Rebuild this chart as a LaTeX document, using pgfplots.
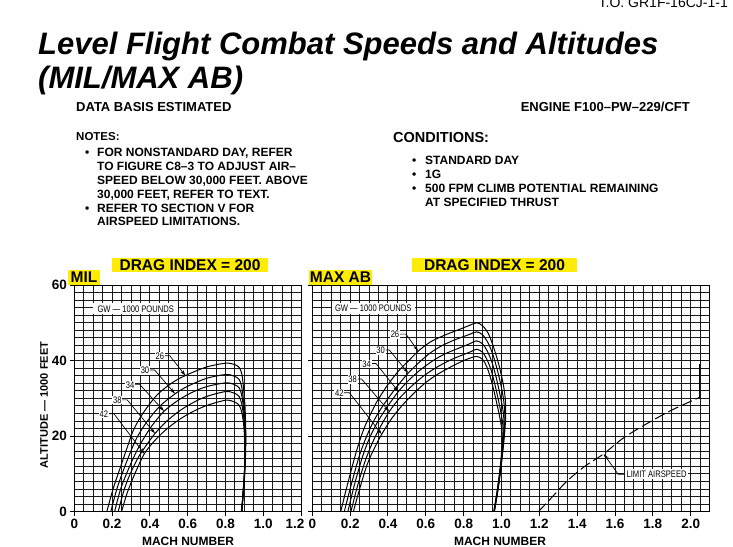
\documentclass[border=0pt]{standalone}
\usepackage{pgfplots}
\pgfplotsset{compat=1.18}
\usepackage{fontspec}
\setmainfont{Liberation Sans}
\newfontfamily\narrow[FakeStretch=0.8]{Liberation Sans}
\usetikzlibrary{arrows.meta}
\definecolor{hl}{RGB}{255,236,0}

\pgfplotsset{
  chart/.style={
    scale only axis, height=226.7pt,
    ymin=0, ymax=60, xmin=0,
    ytick={0,20,40,60},
    minor ytick={0,2,...,60},
    grid=both,
    major grid style={black!90, line width=1pt},
    minor grid style={black!90, line width=1pt},
    axis line style={black, line width=1pt},
    tick style={black, line width=1pt},
    major tick length=4pt, minor tick length=0pt,
    tick align=outside, tick pos=left,
    /pgf/number format/assume math mode=true,
    ticklabel style={font=\bfseries\fontsize{13.5}{14}\selectfont},
    cycle list={{black}},
    every axis plot post/.append style={black, line width=1pt, smooth, tension=0.5, mark=none},
  },
}
\tikzset{
  lbl/.style={fill=white, inner sep=0.8pt, font=\narrow\fontsize{9.5}{10}\selectfont},
  arr/.style={black, line width=0.7pt, -{Stealth[length=6pt,width=3.5pt]}},
}

\begin{document}
\begin{tikzpicture}[x=1pt,y=1pt]
\useasboundingbox (0pt,0pt) rectangle (733pt,546pt);

% header text
\node[anchor=base east, font=\fontsize{14}{14}\selectfont, inner sep=0] at (728pt,538pt) {T.O. GR1F-16CJ-1-1};
\node[anchor=base west, font=\bfseries\itshape\fontsize{31}{31}\selectfont, inner sep=0] at (38pt,491pt) {Level Flight Combat Speeds and Altitudes};
\node[anchor=base west, font=\bfseries\itshape\fontsize{31}{31}\selectfont, inner sep=0] at (38pt,457pt) {(MIL/MAX AB)};
\node[anchor=base west, font=\bfseries\fontsize{13}{13}\selectfont, inner sep=0] at (76pt,434pt) {DATA BASIS ESTIMATED};
\node[anchor=base east, font=\bfseries\fontsize{13}{13}\selectfont, inner sep=0] at (690pt,434pt) {ENGINE F100–PW–229/CFT};

\begin{scope}[every node/.style={anchor=base west, font=\bfseries\fontsize{12}{12}\selectfont, inner sep=0}]
\node[font=\bfseries\fontsize{11.5}{12}\selectfont] at (76pt,405pt) {NOTES:};
\node at (85pt,389.5pt) {\textbullet};
\node at (97pt,389.5pt) {FOR NONSTANDARD DAY, REFER};
\node at (97pt,375.5pt) {TO FIGURE C8–3 TO ADJUST AIR–};
\node at (97pt,361.5pt) {SPEED BELOW 30,000 FEET. ABOVE};
\node at (97pt,347.5pt) {30,000 FEET, REFER TO TEXT.};
\node at (85pt,333.5pt) {\textbullet};
\node at (97pt,333.5pt) {REFER TO SECTION V FOR};
\node at (97pt,320.5pt) {AIRSPEED LIMITATIONS.};
\node[font=\bfseries\fontsize{14.5}{15}\selectfont] at (393pt,403.5pt) {CONDITIONS:};
\node at (412pt,381.5pt) {\textbullet};
\node at (425pt,381.5pt) {STANDARD DAY};
\node at (412pt,367.5pt) {\textbullet};
\node at (425pt,367.5pt) {1G};
\node at (412pt,353.5pt) {\textbullet};
\node at (425pt,353.5pt) {500 FPM CLIMB POTENTIAL REMAINING};
\node at (425pt,339.5pt) {AT SPECIFIED THRUST};
\end{scope}

% highlighted panel titles
\fill[hl] (112pt,274pt) rectangle (268pt,288pt);
\fill[hl] (412pt,274pt) rectangle (577pt,288pt);
\fill[hl] (68pt,261pt) rectangle (100pt,276pt);
\fill[hl] (309pt,261pt) rectangle (372pt,276pt);
\node[font=\bfseries\fontsize{15.5}{16}\selectfont, inner sep=0] at (190pt,281pt) {DRAG INDEX = 200};
\node[font=\bfseries\fontsize{15.5}{16}\selectfont, inner sep=0] at (494.5pt,281pt) {DRAG INDEX = 200};
\node[font=\bfseries\fontsize{15.5}{16}\selectfont, inner sep=0] at (84pt,268.5pt) {MIL};
\node[font=\bfseries\fontsize{15.5}{16}\selectfont, inner sep=0] at (340.5pt,268.5pt) {MAX AB};

\node[rotate=90, font=\bfseries\fontsize{11}{11}\selectfont, inner sep=0] at (44pt,141pt) {ALTITUDE — 1000 FEET};
\node[font=\bfseries\fontsize{12}{12}\selectfont, inner sep=0] at (188pt,5pt) {MACH NUMBER};
\node[font=\bfseries\fontsize{12}{12}\selectfont, inner sep=0] at (500pt,5pt) {MACH NUMBER};

% ---------------- MIL ----------------
\begin{axis}[chart, at={(74.3pt,34.3pt)}, anchor=south west, width=226.8pt,
  xmax=1.2, xtick={0,0.2,0.4,0.6,0.8,1.0,1.2},
  xticklabels={0,0.2,0.4,0.6,0.8,1.0,{\hspace*{-12pt}1.2}},
  minor xtick={0,0.05,...,1.2}]
% GW 26
\addplot coordinates {(0.172,0)(0.205,6)(0.242,11.5)(0.28,17)(0.312,21.5)(0.36,25.8)(0.436,30.8)(0.52,34.2)(0.595,36.2)(0.70,38.3)(0.80,39.3)(0.845,39.0)(0.872,38.2)(0.886,36.5)(0.895,33)(0.903,28)(0.907,22)(0.907,17)(0.902,10)(0.893,4)(0.887,0)};
% GW 30
\addplot coordinates {(0.193,0)(0.225,6)(0.26,11)(0.295,15.5)(0.33,19.5)(0.38,23.5)(0.45,27.8)(0.533,31.2)(0.60,33.2)(0.70,35.3)(0.80,36.3)(0.845,35.9)(0.872,35.0)(0.885,33.2)(0.894,30)(0.902,25.5)(0.906,20.5)(0.905,15.5)(0.900,9.5)(0.892,4)(0.886,0)};
% GW 34
\addplot coordinates {(0.213,0)(0.245,6)(0.28,10.5)(0.32,15)(0.36,18.8)(0.41,22.7)(0.475,26.6)(0.55,29.5)(0.62,31.5)(0.70,33.1)(0.80,34.1)(0.845,33.7)(0.872,32.8)(0.885,31)(0.894,28)(0.901,24)(0.905,19.5)(0.904,14.5)(0.899,9)(0.891,3.5)(0.885,0)};
% GW 38
\addplot coordinates {(0.232,0)(0.265,6)(0.30,10.5)(0.34,14.5)(0.38,17.5)(0.427,20.7)(0.49,24)(0.56,26.8)(0.63,28.9)(0.70,30.5)(0.80,31.8)(0.845,31.4)(0.872,30.5)(0.885,28.7)(0.894,26)(0.900,22.5)(0.904,18.5)(0.903,13.5)(0.898,8.5)(0.890,3)(0.884,0)};
% GW 42
\addplot coordinates {(0.25,0)(0.28,5)(0.32,10)(0.369,15.2)(0.42,18.5)(0.48,21.5)(0.55,24.2)(0.62,26.3)(0.70,28.1)(0.80,29.5)(0.845,29.1)(0.872,28.2)(0.885,26.5)(0.894,24)(0.900,20.5)(0.903,17)(0.902,12.5)(0.897,8)(0.889,2.5)(0.883,0)};

\node[lbl, minimum width=85pt, minimum height=11pt] at (axis cs:0.325,53.65) {GW — 1000 POUNDS};
\draw[arr] (axis cs:0.478,41.3) -- (axis cs:0.505,41.3) -- (axis cs:0.588,36.0);
\draw[arr] (axis cs:0.399,37.5) -- (axis cs:0.425,37.5) -- (axis cs:0.533,31.2);
\draw[arr] (axis cs:0.320,33.7) -- (axis cs:0.346,33.7) -- (axis cs:0.475,26.6);
\draw[arr] (axis cs:0.253,29.6) -- (axis cs:0.280,29.6) -- (axis cs:0.427,20.7);
\draw[arr] (axis cs:0.182,25.9) -- (axis cs:0.210,25.9) -- (axis cs:0.371,15.3);
\node[lbl] at (axis cs:0.453,41.2) {26};
\node[lbl] at (axis cs:0.374,37.4) {30};
\node[lbl] at (axis cs:0.295,33.6) {34};
\node[lbl] at (axis cs:0.228,29.5) {38};
\node[lbl] at (axis cs:0.157,25.8) {42};
\end{axis}

% ---------------- MAX AB ----------------
\begin{axis}[chart, at={(312.3pt,34.3pt)}, anchor=south west, width=397.3pt,
  xmax=2.1, xtick={0,0.2,0.4,0.6,0.8,1.0,1.2,1.4,1.6,1.8,2.0},
  xticklabels={0,0.2,0.4,0.6,0.8,1.0,1.2,1.4,1.6,1.8,2.0},
  minor xtick={0,0.05,...,2.1}, yticklabels={}]
% GW 26
\addplot coordinates {(0.15,0)(0.19,8)(0.235,16.3)(0.27,21.6)(0.30,25)(0.34,29)(0.38,32.2)(0.411,34.4)(0.46,37.5)(0.51,40)(0.56,42.5)(0.62,44.8)(0.68,46.3)(0.728,47.3)(0.78,48.3)(0.83,49.3)(0.869,50)(0.9,49.2)(0.93,47.2)(0.955,44)(0.98,40)(1.0,36)(1.015,32)(1.022,28)(1.02,23)(1.005,15)(0.985,7)(0.962,0)};
% GW 30
\addplot coordinates {(0.169,0)(0.205,7)(0.25,15)(0.29,20.3)(0.33,24.5)(0.37,27.8)(0.42,31.3)(0.465,34.2)(0.507,36.7)(0.56,39.3)(0.62,41.9)(0.68,43.8)(0.73,45)(0.78,46)(0.83,46.9)(0.869,47.6)(0.9,46.8)(0.93,44.6)(0.955,41.5)(0.978,37.5)(0.997,33.5)(1.01,30)(1.017,26.5)(1.016,22)(1.003,14.5)(0.983,6.5)(0.962,0)};
% GW 34
\addplot coordinates {(0.188,0)(0.222,7)(0.265,14.5)(0.30,19.2)(0.34,23.3)(0.39,27.3)(0.455,31.8)(0.51,34.8)(0.57,37.5)(0.63,39.7)(0.69,41.5)(0.74,42.6)(0.79,43.6)(0.83,44.4)(0.869,45.2)(0.9,44.4)(0.925,42.5)(0.95,39.5)(0.972,35.5)(0.99,31.5)(1.004,28)(1.012,25)(1.012,21)(1.0,14)(0.981,6)(0.961,0)};
% GW 38
\addplot coordinates {(0.204,0)(0.24,7)(0.28,13.5)(0.32,18.5)(0.36,22.5)(0.407,26.5)(0.46,30)(0.52,33)(0.58,35.6)(0.64,37.7)(0.70,39.4)(0.75,40.6)(0.80,41.6)(0.84,42.4)(0.869,43)(0.9,42.2)(0.922,40.4)(0.945,37.5)(0.966,33.5)(0.984,29.5)(0.998,26)(1.007,23)(1.008,20)(0.998,13.5)(0.979,6)(0.96,0)};
% GW 42
\addplot coordinates {(0.217,0)(0.25,6)(0.29,12.5)(0.33,17)(0.367,20.5)(0.42,24.7)(0.48,28.4)(0.54,31.5)(0.60,34.2)(0.66,36.3)(0.72,38)(0.77,39.3)(0.82,40.4)(0.869,41.1)(0.9,40.3)(0.92,38.6)(0.94,35.8)(0.96,32)(0.978,28)(0.993,24.5)(1.002,21.5)(1.004,18.5)(0.996,13)(0.977,5.5)(0.959,0)};
% limit airspeed
\addplot[dash pattern=on 11pt off 4pt] coordinates {(1.195,0)(1.27,4)(1.344,8)(1.44,12)(1.54,15.3)(1.625,18.8)(1.70,21.3)(1.80,24.2)(1.90,26.9)(2.00,29.2)(2.045,30.2)};
\addplot coordinates {(2.045,30.2)(2.045,39)};

\node[lbl, minimum width=83pt, minimum height=11pt] at (axis cs:0.322,53.75) {GW — 1000 POUNDS};
\draw[arr] (axis cs:0.462,47.0) -- (axis cs:0.495,47.0) -- (axis cs:0.56,42.5);
\draw[arr] (axis cs:0.386,42.8) -- (axis cs:0.407,42.8) -- (axis cs:0.507,36.7);
\draw[arr] (axis cs:0.312,39.2) -- (axis cs:0.337,39.2) -- (axis cs:0.455,31.8);
\draw[arr] (axis cs:0.238,35.1) -- (axis cs:0.261,35.1) -- (axis cs:0.407,26.5);
\draw[arr] (axis cs:0.168,31.5) -- (axis cs:0.196,31.5) -- (axis cs:0.367,20.5);
\node[lbl] at (axis cs:0.437,46.9) {26};
\node[lbl] at (axis cs:0.361,42.7) {30};
\node[lbl] at (axis cs:0.287,39.1) {34};
\node[lbl] at (axis cs:0.213,35.0) {38};
\node[lbl] at (axis cs:0.143,31.4) {42};
\draw[arr] (axis cs:1.652,9.9) -- (axis cs:1.617,9.9) -- (axis cs:1.54,15.3);
\node[lbl, inner sep=1.5pt] at (axis cs:1.82,9.9) {LIMIT AIRSPEED};
\end{axis}
\end{tikzpicture}
\end{document}
